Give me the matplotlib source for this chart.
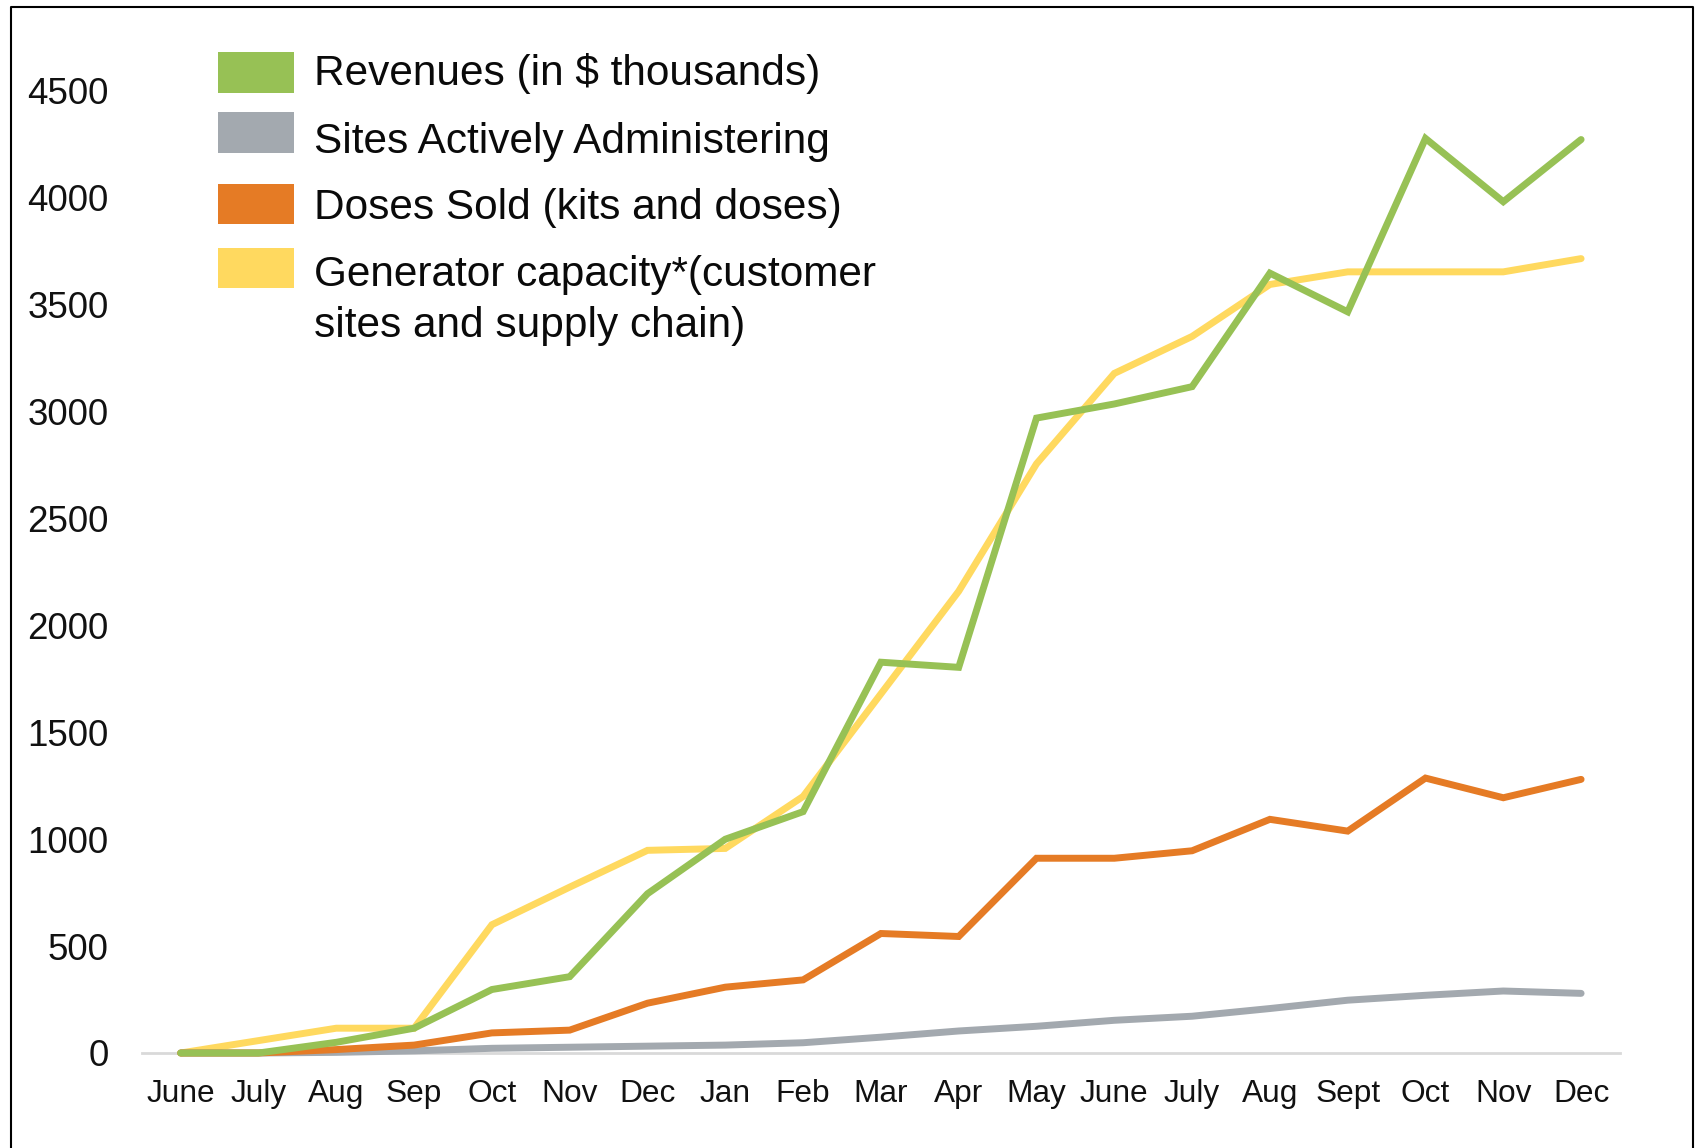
import matplotlib
matplotlib.use("Agg")
import matplotlib.pyplot as plt
from matplotlib.patches import Rectangle
from matplotlib.lines import Line2D

# ---- data ----
months = ["June", "July", "Aug", "Sep", "Oct", "Nov", "Dec", "Jan", "Feb", "Mar",
          "Apr", "May", "June", "July", "Aug", "Sept", "Oct", "Nov", "Dec"]
revenues = [0, 0, 50, 116, 297, 357, 745, 1000, 1129, 1828, 1804, 2970, 3036,
            3117, 3648, 3467, 4278, 3982, 4273]
sites = [0, 0, 3, 10, 22, 27, 32, 37, 48, 74, 103, 125, 153, 172, 208, 247, 270,
         290, 279]
doses = [0, 0, 16, 37, 94, 107, 233, 308, 342, 559, 545, 911, 911, 946, 1093,
         1038, 1286, 1194, 1280]
capacity = [0, 58, 116, 116, 600, 776, 948, 957, 1200, 1680, 2160, 2756, 3179,
            3352, 3595, 3654, 3654, 3654, 3716]
yticks = [0, 500, 1000, 1500, 2000, 2500, 3000, 3500, 4000, 4500]

labels = ["Revenues (in $ thousands)", "Sites Actively Administering",
          "Doses Sold (kits and doses)",
          "Generator capacity*(customer\nsites and supply chain)"]
colors = ["#97C155", "#A3A9AF", "#E57B25", "#FFD95F"]

# ---- figure ----
W, H = 1697, 1148
fig = plt.figure(figsize=(W / 100, H / 100), dpi=100)
fig.patch.set_facecolor("white")

def fx(px):
    return px / W

def fy(py):
    return 1 - py / H

left, right, top, bottom = 141.8, 1620, 91, 1053
ax = fig.add_axes([fx(left), fy(bottom), fx(right - left), fy(top) - fy(bottom)])
ax.set_facecolor("white")

x = list(range(len(months)))
lw = 5.0
series = [(capacity, colors[3]), (sites, colors[1]), (doses, colors[2]), (revenues, colors[0])]
for vals, c in series:
    ax.plot(x, vals, color=c, lw=lw, solid_capstyle="round", solid_joinstyle="miter",
            clip_on=False)

ax.set_xlim(-0.5, len(months) - 0.5)
ax.set_ylim(0, 4500)
ax.set_xticks(x)
ax.set_xticklabels(months)
ax.set_yticks(yticks)
ax.set_yticklabels([str(v) for v in yticks])
for s in ["left", "right", "top"]:
    ax.spines[s].set_visible(False)
ax.spines["bottom"].set_color("#D9D9D9")
ax.spines["bottom"].set_linewidth(2)
ax.spines["bottom"].set_zorder(0.5)
ax.tick_params(axis="both", length=0)
ax.tick_params(axis="y", pad=24, labelsize=26.5, labelcolor="#111111")
ax.tick_params(axis="x", pad=19, labelsize=22.8, labelcolor="#111111")
for t in ax.get_xticklabels() + ax.get_yticklabels():
    t.set_family("Liberation Sans")

# ---- legend (manual) ----
patch_centers = [72.5, 132.5, 204.3, 268.3]
baselines = [85, 152.5, 219, 286]
line_gap = 51
for lab, c, pc, bl in zip(labels, colors, patch_centers, baselines):
    fig.add_artist(Rectangle((fx(218), fy(pc + 20)), fx(76), 40 / H,
                             facecolor=c, edgecolor="none", transform=fig.transFigure))
    for i, line in enumerate(lab.split("\n")):
        fig.text(fx(314), fy(bl + i * line_gap), line, fontsize=30.5,
                 family="Liberation Sans", va="baseline", ha="left", color="#0A0A0A")

# ---- outer border ----
bx0, by0, bx1 = 10.5, 7, 1693
fig.add_artist(Line2D([fx(bx0), fx(bx0), fx(bx1), fx(bx1)],
                      [0, fy(by0), fy(by0), 0], color="black", lw=1.5,
                      transform=fig.transFigure))

fig.savefig("out.png", dpi=100, facecolor="white")
